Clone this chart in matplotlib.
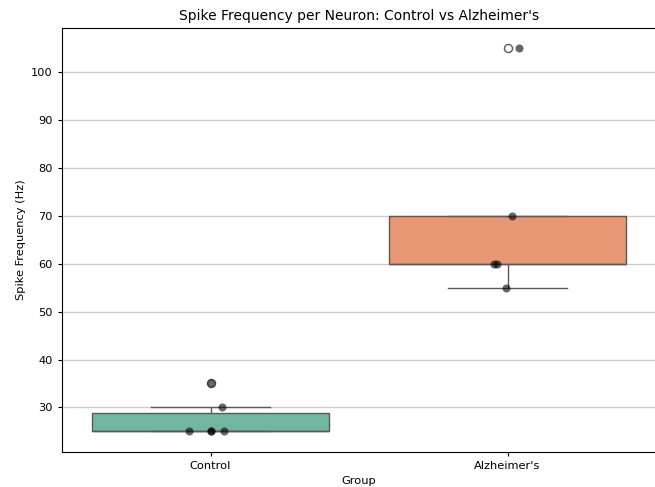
import numpy as np
import pandas as pd
import matplotlib
matplotlib.use("Agg")
import matplotlib.pyplot as plt
import seaborn as sns

# spike frequencies per neuron (Hz)
groups = ["Control", "Alzheimer's"]
control_hz = [25, 25, 25, 25, 30, 35]
alzheimer_hz = [55, 60, 60, 70, 105]

# horizontal scatter offsets for the individual neurons
control_jitter = [-0.073, 0.0, 0.002, 0.044, 0.04, 0.0]
alzheimer_jitter = [-0.006, -0.045, -0.036, 0.014, 0.039]

df = pd.DataFrame({
    "Group": [groups[0]] * len(control_hz) + [groups[1]] * len(alzheimer_hz),
    "Spike Frequency (Hz)": control_hz + alzheimer_hz,
})

plt.rcParams["font.family"] = "DejaVu Sans"
fig = plt.figure(figsize=(6.55, 4.87), dpi=100)
ax = fig.add_axes([62 / 655, 1 - 451.5 / 487, 594 / 655, 423.5 / 487])

sns.boxplot(data=df, x="Group", y="Spike Frequency (Hz)", hue="Group",
            order=groups, palette="Set2", legend=False, ax=ax,
            flierprops=dict(markersize=5.8))

for i, (vals, jit) in enumerate([(control_hz, control_jitter),
                                 (alzheimer_hz, alzheimer_jitter)]):
    xs = i + np.array(jit)
    ax.plot(xs, vals, "o", color="black", alpha=0.6, markersize=5.8,
            markeredgewidth=0, zorder=3)

ax.yaxis.grid(True, color="#cccccc", linewidth=1)
ax.set_axisbelow(True)
ax.set_xlim(-0.5, 1.5)
ax.set_ylim(20.8, 109.2)
ax.set_title("Spike Frequency per Neuron: Control vs Alzheimer's", fontsize=10)
ax.set_xlabel("Group", fontsize=8.2)
ax.set_ylabel("Spike Frequency (Hz)", fontsize=8.2)
ax.tick_params(labelsize=8.2, length=3)

fig.savefig("out.png", dpi=100)
